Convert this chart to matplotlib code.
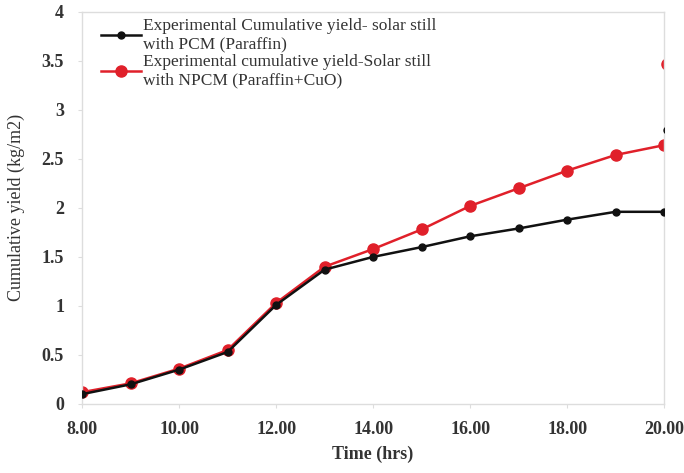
import matplotlib
matplotlib.use("Agg")
import matplotlib.pyplot as plt

hours = [8, 9, 10, 11, 12, 13, 14, 15, 16, 17, 18, 19, 20]
pcm_yield = [0.10, 0.20, 0.35, 0.53, 1.01, 1.37, 1.50, 1.60, 1.71, 1.79, 1.88, 1.96, 1.96]
npcm_yield = [0.12, 0.21, 0.36, 0.55, 1.03, 1.40, 1.58, 1.78, 2.02, 2.20, 2.38, 2.54, 2.64]
stray_x = [20.06]
pcm_stray = [2.79]
npcm_stray = [3.47]
xticks = [8, 10, 12, 14, 16, 18, 20]
xticklabels = ["8.00", "10.00", "12.00", "14.00", "16.00", "18.00", "20.00"]
yticks = [0, 0.5, 1, 1.5, 2, 2.5, 3, 3.5, 4]
yticklabels = ["0", "0.5", "1", "1.5", "2", "2.5", "3", "3.5", "4"]

plt.rcParams['font.family'] = ['Liberation Serif', 'DejaVu Serif']
txt = '#333333'

fig = plt.figure(figsize=(6.84, 4.73), dpi=100)
ax = fig.add_axes([0.12, 0.146, 0.851, 0.829])

ax.plot(hours, pcm_yield, color='#111111', lw=1.8, marker='o', ms=5,
        label='Experimental Cumulative yield- solar still\nwith PCM (Paraffin)', zorder=3)
ax.plot(hours, npcm_yield, color='#e0202a', lw=1.8, marker='o', ms=8,
        label='Experimental cumulative yield-Solar still\nwith NPCM (Paraffin+CuO)', zorder=2)
ax.plot(stray_x, pcm_stray, 'o', color='#111111', ms=5, zorder=3)
ax.plot(stray_x, npcm_stray, 'o', color='#e0202a', ms=8, zorder=2)

ax.set_xlim(8, 20)
ax.set_ylim(0, 4)
ax.set_xticks(xticks)
ax.set_xticklabels(xticklabels, fontweight='bold')
ax.set_yticks(yticks)
ax.set_yticklabels(yticklabels, fontweight='bold')
ax.tick_params(axis='both', labelsize=13, colors='#dddddd', labelcolor=txt, length=3)
ax.tick_params(axis='x', pad=9)
ax.tick_params(axis='y', pad=10)
for s in ax.spines.values():
    s.set_color('#dddddd')
    s.set_linewidth(1)

ax.set_xlabel('Time (hrs)', fontsize=13, color=txt, labelpad=6, fontweight='bold')
ax.set_ylabel('Cumulative yield (kg/m2)', fontsize=13, color=txt, labelpad=12)

leg = ax.legend(loc='upper left', bbox_to_anchor=(0.015, 1.01), frameon=False,
                fontsize=12.5, handlelength=2.3, handletextpad=0.1,
                labelspacing=0.05, borderaxespad=0.2)
for t in leg.get_texts():
    t.set_color(txt)

fig.savefig('out.png', dpi=100)
